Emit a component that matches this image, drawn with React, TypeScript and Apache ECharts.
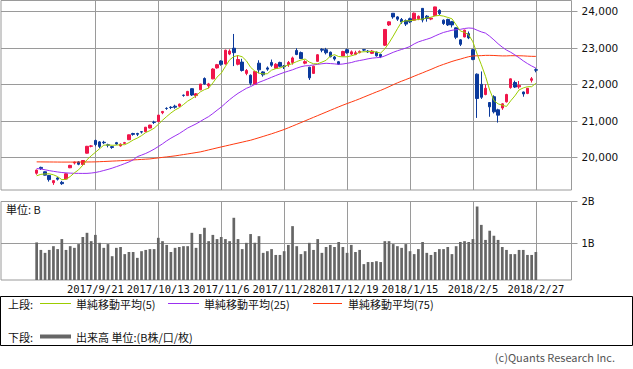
import React, { useEffect, useRef } from 'react';
import * as echarts from 'echarts';

// ---- categories (trading days) ----
const leadDates = ['2017/8/21', '2017/8/22', '2017/8/23', '2017/8/24', '2017/8/25', '2017/8/28', '2017/8/29', '2017/8/30'];
const dates = [
  '2017/8/31', '2017/9/1', '2017/9/4', '2017/9/5', '2017/9/6', '2017/9/7', '2017/9/8', '2017/9/11', '2017/9/12', '2017/9/13',
  '2017/9/14', '2017/9/15', '2017/9/19', '2017/9/20', '2017/9/21', '2017/9/22', '2017/9/25', '2017/9/26', '2017/9/27', '2017/9/28',
  '2017/9/29', '2017/10/2', '2017/10/3', '2017/10/4', '2017/10/5', '2017/10/6', '2017/10/10', '2017/10/11', '2017/10/12', '2017/10/13',
  '2017/10/16', '2017/10/17', '2017/10/18', '2017/10/19', '2017/10/20', '2017/10/23', '2017/10/24', '2017/10/25', '2017/10/26', '2017/10/27',
  '2017/10/30', '2017/10/31', '2017/11/1', '2017/11/2', '2017/11/6', '2017/11/7', '2017/11/8', '2017/11/9', '2017/11/10', '2017/11/13',
  '2017/11/14', '2017/11/15', '2017/11/16', '2017/11/17', '2017/11/20', '2017/11/21', '2017/11/22', '2017/11/24', '2017/11/27', '2017/11/28',
  '2017/11/29', '2017/11/30', '2017/12/1', '2017/12/4', '2017/12/5', '2017/12/6', '2017/12/7', '2017/12/8', '2017/12/11', '2017/12/12',
  '2017/12/13', '2017/12/14', '2017/12/15', '2017/12/18', '2017/12/19', '2017/12/20', '2017/12/21', '2017/12/22', '2017/12/25', '2017/12/26',
  '2017/12/27', '2017/12/28', '2017/12/29', '2018/1/4', '2018/1/5', '2018/1/9', '2018/1/10', '2018/1/11', '2018/1/12', '2018/1/15',
  '2018/1/16', '2018/1/17', '2018/1/18', '2018/1/19', '2018/1/22', '2018/1/23', '2018/1/24', '2018/1/25', '2018/1/26', '2018/1/29',
  '2018/1/30', '2018/1/31', '2018/2/1', '2018/2/2', '2018/2/5', '2018/2/6', '2018/2/7', '2018/2/8', '2018/2/9', '2018/2/13',
  '2018/2/14', '2018/2/15', '2018/2/16', '2018/2/19', '2018/2/20', '2018/2/21', '2018/2/22', '2018/2/23', '2018/2/26', '2018/2/27',
];
const trailDates = ['2018/2/28', '2018/3/1', '2018/3/2', '2018/3/5', '2018/3/6', '2018/3/7', '2018/3/8', '2018/3/9'];
const labelDates = ['2017/9/21', '2017/10/13', '2017/11/6', '2017/11/28', '2017/12/19', '2018/1/15', '2018/2/5', '2018/2/27'];

// ---- prices ----
const opens = [
  19560, 19720, 19600, 19500, 19300, 19430, 19310, 19400, 19710, 19840,
  19870, 19800, 20110, 20300, 20460, 20420, 20410, 20340, 20290, 20400,
  20310, 20380, 20480, 20650, 20650, 20700, 20700, 20800, 20960, 20980,
  21220, 21340, 21370, 21400, 21400, 21700, 21690, 21880, 21690, 21850,
  22160, 21960, 22150, 22450, 22640, 22560, 22830, 22990, 22550, 22610,
  22300, 22250, 22000, 22580, 22340, 22450, 22600, 22440, 22600, 22500,
  22540, 22600, 22930, 22870, 22580, 22470, 22300, 22630, 22960, 22950,
  22880, 22750, 22620, 22780, 22950, 22830, 22820, 22870, 22950, 22910,
  22850, 22880, 22820, 23073, 23630, 23950, 23850, 23780, 23750, 23800,
  23760, 23800, 24084, 23870, 23790, 23890, 24030, 23760, 23780, 23720,
  23550, 23220, 23300, 23390, 22950, 22278, 22000, 21720, 21500, 21660,
  21300, 21350, 21520, 21910, 22050, 21930, 21790, 21750, 22110, 22400,
];
const closes = [
  19646, 19691, 19508, 19385, 19357, 19396, 19274, 19545, 19776, 19865,
  19807, 19909, 20299, 20310, 20347, 20296, 20397, 20330, 20267, 20363,
  20356, 20400, 20614, 20626, 20628, 20690, 20823, 20881, 20954, 21155,
  21255, 21336, 21363, 21372, 21457, 21696, 21805, 21707, 21739, 22008,
  22011, 22011, 22420, 22539, 22548, 22937, 22913, 22868, 22681, 22380,
  22380, 22028, 22351, 22397, 22261, 22416, 22523, 22550, 22495, 22486,
  22597, 22724, 22819, 22707, 22622, 22177, 22498, 22811, 22938, 22866,
  22758, 22694, 22553, 22901, 22868, 22891, 22866, 22902, 22939, 22892,
  22911, 22783, 22765, 23506, 23714, 23849, 23788, 23710, 23653, 23714,
  23952, 23868, 23763, 23808, 23816, 24124, 23940, 23669, 23631, 23629,
  23291, 23098, 23486, 23274, 22682, 21610, 21645, 21891, 21382, 21245,
  21154, 21464, 21720, 22150, 21925, 21970, 21736, 21892, 22153, 22389,
];
const lows = [
  19520, 19650, 19500, 19330, 19240, 19360, 19240, 19390, 19700, 19800,
  19780, 19760, 20100, 20270, 20300, 20250, 20360, 20270, 20230, 20340,
  20290, 20360, 20470, 20590, 20580, 20650, 20690, 20790, 20910, 20960,
  21180, 21300, 21320, 21330, 21380, 21660, 21680, 21680, 21630, 21840,
  21990, 21890, 22140, 22430, 22510, 22540, 22800, 22500, 22520, 22350,
  22250, 21970, 21990, 22300, 22210, 22370, 22480, 22420, 22470, 22420,
  22480, 22540, 22800, 22700, 22550, 22120, 22290, 22620, 22880, 22820,
  22740, 22650, 22530, 22770, 22840, 22800, 22800, 22850, 22910, 22860,
  22830, 22760, 22720, 23050, 23600, 23800, 23740, 23660, 23600, 23680,
  23740, 23760, 23700, 23720, 23760, 23880, 23900, 23630, 23600, 23560,
  23240, 23050, 23290, 23240, 22660, 21078, 21600, 21700, 21110, 21200,
  20950, 21300, 21500, 21880, 21900, 21880, 21660, 21730, 22050, 22330,
];
const highs = [
  19660, 19740, 19610, 19510, 19370, 19450, 19350, 19560, 19790, 19880,
  19890, 19920, 20310, 20330, 20481, 20440, 20450, 20370, 20300, 20420,
  20380, 20420, 20620, 20670, 20670, 20710, 20830, 20890, 21000, 21160,
  21270, 21370, 21400, 21440, 21470, 21720, 21820, 21890, 21760, 22010,
  22190, 22040, 22440, 22560, 22660, 22950, 22960, 23382, 22800, 22700,
  22420, 22270, 22370, 22660, 22360, 22490, 22680, 22580, 22620, 22530,
  22640, 22760, 22990, 22900, 22660, 22480, 22510, 22830, 22990, 23000,
  22900, 22780, 22640, 22920, 22980, 22930, 22920, 22930, 22960, 22940,
  22940, 22900, 22840, 23510, 23730, 23952, 23870, 23820, 23780, 23830,
  23970, 23890, 24084, 23900, 23830, 24129, 24060, 23780, 23800, 23740,
  23560, 23240, 23500, 23450, 22970, 22300, 22353, 22000, 21510, 21700,
  21330, 21480, 21740, 22160, 22100, 22090, 21800, 21900, 22200, 22440,
];
// volume, billions of shares
const volumes = [
  1.02, 0.84, 0.77, 0.84, 0.93, 0.86, 1.10, 0.84, 0.93, 0.89,
  0.98, 1.15, 1.25, 1.05, 1.20, 1.01, 0.89, 0.98, 0.69, 0.89,
  0.91, 0.74, 0.79, 0.79, 0.65, 0.81, 0.84, 0.86, 0.86, 1.13,
  1.05, 0.96, 0.79, 0.89, 0.91, 0.93, 0.93, 1.25, 0.89, 1.22,
  1.37, 1.05, 1.20, 1.10, 1.15, 1.10, 1.05, 1.61, 1.10, 0.86,
  1.01, 1.22, 1.01, 1.17, 0.77, 0.81, 0.86, 0.72, 0.72, 0.81,
  0.96, 1.41, 0.93, 0.74, 0.81, 1.01, 0.84, 1.10, 0.77, 0.91,
  0.96, 0.91, 1.03, 0.91, 0.77, 0.96, 0.79, 0.84, 0.50, 0.55,
  0.55, 0.57, 0.55, 1.05, 1.05, 0.98, 0.93, 0.89, 0.98, 0.81,
  0.74, 0.86, 1.03, 0.77, 0.72, 0.79, 0.86, 0.86, 0.91, 0.74,
  0.93, 1.03, 1.05, 1.03, 1.10, 1.88, 1.44, 1.08, 1.30, 1.18,
  1.08, 0.91, 0.84, 0.74, 0.74, 0.84, 0.84, 0.72, 0.72, 0.79,
];
const ma5Head = [19490, 19530, 19540, 19545];
const ma25Head = [
  19690, 19675, 19655, 19632, 19612, 19595, 19580, 19570, 19563, 19558,
  19556, 19555, 19556, 19565, 19580, 19605, 19635, 19665, 19700, 19740,
  19780, 19825, 19870, 19925,
];
const ma75Head = [
  19872, 19871, 19870, 19869, 19868, 19867, 19866, 19866, 19866, 19866,
  19867, 19868, 19869, 19870, 19872, 19877, 19882, 19887, 19893, 19898,
  19904, 19911, 19918, 19925, 19932, 19939, 19946, 19953, 19967, 19981,
  19995, 20008, 20022, 20036, 20054, 20072, 20090, 20108, 20127, 20145,
  20172, 20200, 20227, 20255, 20282, 20308, 20334, 20361, 20387, 20413,
  20440, 20466, 20500, 20535, 20570, 20606, 20642, 20680, 20720, 20760,
  20807, 20854, 20902, 20950, 20998, 21046, 21094, 21142, 21190, 21238,
  21286, 21334, 21382, 21428,
];
const priceTicks = [20000, 21000, 22000, 23000, 24000];
const volumeTicks = [1, 2];

const C_UP = '#f0164a';
const C_DOWN = '#0b3a9c';
const C_MA5 = '#9ccc00';
const C_MA25 = '#9b30f0';
const C_MA75 = '#ff3a10';
const C_VOL = '#666666';
const C_GRID = '#9a9a9a';
const JP = '"Noto Sans CJK JP", sans-serif';

function movingAverage(head: number[], n: number): number[] {
  return closes.map((_, i) => {
    if (i < n - 1) return head[i];
    let s = 0;
    for (let k = i - n + 1; k <= i; k++) s += closes[k];
    return Math.round((s / n) * 10) / 10;
  });
}

const pad = (arr: any[]) => [...leadDates.map(() => '-'), ...arr, ...trailDates.map(() => '-')];

export default function App() {
  const ref = useRef<HTMLDivElement>(null);
  useEffect(() => {
    if (!ref.current) return;
    const chart = echarts.init(ref.current, undefined, { renderer: 'svg' });
    const categories = [...leadDates, ...dates, ...trailDates];
    const isMarked = (_i: number, v: string) => labelDates.indexOf(v) >= 0;
    const candles = pad(dates.map((_, i) => [opens[i], closes[i], lows[i], highs[i]]));
    const gridL = 1;
    const gridW = 570.5;
    const option: any = {
      animation: false,
      backgroundColor: '#ffffff',
      grid: [
        { left: gridL, top: 0.5, width: gridW, height: 189.5, show: true, borderColor: C_GRID, borderWidth: 1, backgroundColor: 'transparent' },
        { left: gridL, top: 201.5, width: gridW, height: 78.5, show: true, borderColor: C_GRID, borderWidth: 1, backgroundColor: 'transparent' },
      ],
      xAxis: [
        {
          type: 'category', gridIndex: 0, data: categories, boundaryGap: true,
          axisLine: { show: false }, axisTick: { show: false }, axisLabel: { show: false },
          splitLine: { show: true, interval: isMarked, alignWithLabel: true, lineStyle: { color: C_GRID, width: 1 } },
        },
        {
          type: 'category', gridIndex: 1, data: categories, boundaryGap: true,
          axisLine: { show: false }, axisTick: { show: false },
          axisLabel: { show: true, interval: isMarked, color: '#111', fontSize: 10.5, fontFamily: '"DejaVu Sans Mono", monospace', margin: 3 },
          splitLine: { show: true, interval: isMarked, alignWithLabel: true, lineStyle: { color: C_GRID, width: 1 } },
        },
      ],
      yAxis: [
        {
          type: 'value', gridIndex: 0, position: 'right', min: 19100, max: 24300, scale: true,
          axisLine: { show: false },
          axisTick: { show: true, inside: false, length: 6, customValues: priceTicks, lineStyle: { color: C_GRID } },
          axisLabel: { customValues: priceTicks, color: '#111', fontSize: 10.5, fontFamily: '"DejaVu Sans", sans-serif', margin: 10,
            formatter: (v: number) => v.toLocaleString('en-US') },
          splitLine: { show: true, lineStyle: { color: C_GRID, width: 1 } },
        },
        {
          type: 'value', gridIndex: 1, position: 'right', min: 0.12, max: 2, scale: true,
          axisLine: { show: false },
          axisTick: { show: true, inside: false, length: 6, customValues: volumeTicks, lineStyle: { color: C_GRID } },
          axisLabel: { customValues: volumeTicks, color: '#111', fontSize: 10, fontFamily: '"DejaVu Sans", sans-serif', margin: 10,
            formatter: (v: number) => `${v}B` },
          splitLine: { show: true, lineStyle: { color: C_GRID, width: 1 } },
        },
      ],
      series: [
        {
          type: 'candlestick', xAxisIndex: 0, yAxisIndex: 0, data: candles, barWidth: 3,
          itemStyle: { color: C_UP, color0: C_DOWN, borderColor: C_UP, borderColor0: C_DOWN, borderWidth: 1 },
        },
        { type: 'line', name: 'ma75', xAxisIndex: 0, yAxisIndex: 0, data: pad(movingAverage(ma75Head, 75)), symbol: 'none', lineStyle: { color: C_MA75, width: 1 } },
        { type: 'line', name: 'ma25', xAxisIndex: 0, yAxisIndex: 0, data: pad(movingAverage(ma25Head, 25)), symbol: 'none', lineStyle: { color: C_MA25, width: 1 } },
        { type: 'line', name: 'ma5', xAxisIndex: 0, yAxisIndex: 0, data: pad(movingAverage(ma5Head, 5)), symbol: 'none', lineStyle: { color: C_MA5, width: 1 } },
        { type: 'bar', name: 'volume', xAxisIndex: 1, yAxisIndex: 1, data: pad(volumes), barWidth: 2.7, itemStyle: { color: C_VOL } },
      ],
      graphic: [
        { type: 'text', left: 6, top: 203, style: { text: '単位: B', fontSize: 11, fontFamily: JP, fill: '#111' } },
        { type: 'rect', shape: { x: 0.5, y: 296.5, width: 632, height: 49 }, style: { fill: 'transparent', stroke: '#000', lineWidth: 1 } },
        { type: 'text', x: 8, y: 303.5, style: { text: '上段:', fontSize: 11, fontFamily: JP, fill: '#111', verticalAlign: 'middle' } },
        { type: 'line', shape: { x1: 40, y1: 303.5, x2: 71, y2: 303.5 }, style: { stroke: C_MA5, lineWidth: 1 } },
        { type: 'text', x: 76, y: 303.5, style: { text: '単純移動平均(5)', fontSize: 11, fontFamily: JP, fill: '#111', verticalAlign: 'middle' } },
        { type: 'line', shape: { x1: 168, y1: 303.5, x2: 199, y2: 303.5 }, style: { stroke: C_MA25, lineWidth: 1 } },
        { type: 'text', x: 204, y: 303.5, style: { text: '単純移動平均(25)', fontSize: 11, fontFamily: JP, fill: '#111', verticalAlign: 'middle' } },
        { type: 'line', shape: { x1: 313, y1: 303.5, x2: 342, y2: 303.5 }, style: { stroke: C_MA75, lineWidth: 1 } },
        { type: 'text', x: 348, y: 303.5, style: { text: '単純移動平均(75)', fontSize: 11, fontFamily: JP, fill: '#111', verticalAlign: 'middle' } },
        { type: 'text', x: 8, y: 336.5, style: { text: '下段:', fontSize: 11, fontFamily: JP, fill: '#111', verticalAlign: 'middle' } },
        { type: 'line', shape: { x1: 40, y1: 336.5, x2: 71, y2: 336.5 }, style: { stroke: C_VOL, lineWidth: 4 } },
        { type: 'text', x: 76, y: 336.5, style: { text: '出来高 単位:(B株/口/枚)', fontSize: 11, fontFamily: JP, fill: '#111', verticalAlign: 'middle' } },
        { type: 'text', x: 615, y: 357, style: { text: '(c)Quants Research Inc.', fontSize: 11, fontFamily: JP, fill: '#555', align: 'right', verticalAlign: 'middle' } },
      ],
    };
    chart.setOption(option);
    return () => chart.dispose();
  }, []);
  return <div ref={ref} style={{ position: 'absolute', left: 0, top: 0, width: 633, height: 369 }} />;
}
